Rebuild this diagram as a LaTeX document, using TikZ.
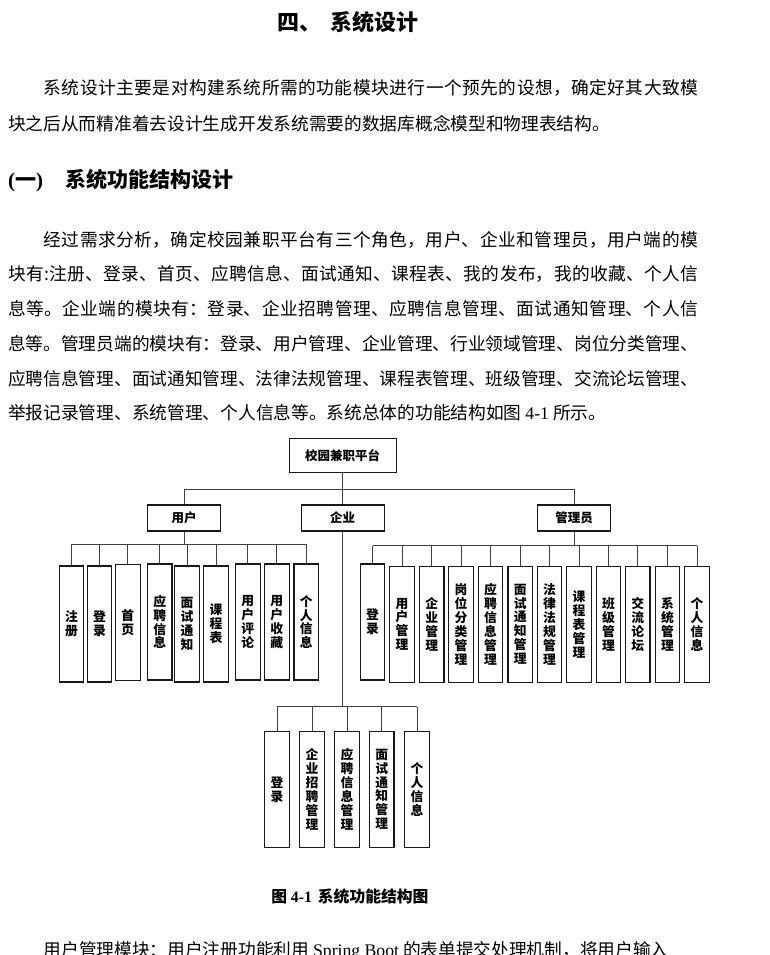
\documentclass[tikz,border=0pt]{standalone}
\usepackage{fontspec}
\setmainfont{Noto Sans CJK SC}
\newfontfamily\lat{Liberation Serif}
\XeTeXlinebreaklocale "zh"
\XeTeXlinebreakskip=0pt plus 2pt minus 0.4pt
\newcommand{\jline}[1]{\parbox{690pt}{\parindent=0pt\parfillskip=0pt\relax #1}}
\newcommand{\ind}{\hspace*{35.4pt}}
\tikzset{
  body/.style={anchor=west, inner sep=0pt, font=\fontsize{17.7}{20}\selectfont},
  topbox/.style={draw=black!90, line width=1.1pt, inner sep=0pt, minimum height=26pt,
     font=\bfseries\fontsize{12.5}{14}\selectfont},
  leaf/.style={draw=black!90, line width=1.1pt, inner sep=0pt, minimum width=24.5pt,
     minimum height=116pt, align=center, font=\bfseries\fontsize{12.8}{13.9}\selectfont},
  conn/.style={draw=black!75, line width=1pt}
}
\begin{document}
\begin{tikzpicture}[x=1pt,y=-1pt]
\useasboundingbox (0,0) rectangle (770,955);
% ---------- text ----------
\node[inner sep=0pt, font=\bfseries\fontsize{22}{26}\selectfont] (title) at (348,22) {四、\hspace{9pt}系统设计};
\node[body] (p1a) at (8,88) {\jline{\ind 系统设计主要是对构建系统所需的功能模块进行一个预先的设想，确定好其大致模}};
\node[body] (p1b) at (8,124) {块之后从而精准着去设计生成开发系统需要的数据库概念模型和物理表结构。};
\node[body, font=\bfseries\fontsize{21}{24}\selectfont] (h1) at (8,181) {{\lat\bfseries (}一{\lat\bfseries )}\hspace{22pt}系统功能结构设计};
\node[body] (p2a) at (8,240) {\jline{\ind 经过需求分析，确定校园兼职平台有三个角色，用户、企业和管理员，用户端的模}};
\node[body] (p2b) at (8,274) {\jline{块有:注册、登录、首页、应聘信息、面试通知、课程表、我的发布，我的收藏、个人信}};
\node[body] (p2c) at (8,309) {\jline{息等。企业端的模块有：登录、企业招聘管理、应聘信息管理、面试通知管理、个人信}};
\node[body] (p2d) at (8,344) {\jline{息等。管理员端的模块有：登录、用户管理、企业管理、行业领域管理、岗位分类管理、}};
\node[body] (p2e) at (8,379) {\jline{应聘信息管理、面试通知管理、法律法规管理、课程表管理、班级管理、交流论坛管理、}};
\node[body] (p2f) at (8,413) {举报记录管理、系统管理、个人信息等。系统总体的功能结构如图 {\lat 4-1} 所示。};
\node[inner sep=0pt, font=\bfseries\fontsize{15.8}{18}\selectfont] (cap) at (350,896) {图 {\lat\bfseries 4-1}\hspace{6pt}系统功能结构图};
\node[body] (p3) at (8,951) {\ind 用户管理模块：用户注册功能利用 {\lat Spring Boot} 的表单提交处理机制，将用户输入};
% ---------- diagram ----------
\node[topbox, minimum width=107pt, minimum height=34.4pt] (root) at (342.6,455.5) {校园兼职平台};
\node[topbox, minimum width=73pt] (user) at (184.2,518) {用户};
\node[topbox, minimum width=83pt] (ent) at (342.6,518) {企业};
\node[topbox, minimum width=72.6pt] (adm) at (574,518) {管理员};
\coordinate (rbus) at (342.6,489.3);
% user leaves
\node[leaf] (u1) at (71.5,624) {注\\册};
\node[leaf] (u2) at (99.5,624) {登\\录};
\node[leaf] (u3) at (127.8,622.5) {首\\页};
\node[leaf] (u4) at (159.7,622) {应\\聘\\信\\息};
\node[leaf] (u5) at (187,624) {面\\试\\通\\知};
\node[leaf] (u6) at (216,624) {课\\程\\表};
\node[leaf] (u7) at (247.8,622) {用\\户\\评\\论};
\node[leaf] (u8) at (276.8,622) {用\\户\\收\\藏};
\node[leaf] (u9) at (306.2,622) {个\\人\\信\\息};
\coordinate (ubus) at (184.2,544.3);
% admin leaves
\node[leaf] (a1) at (372.5,622) {登\\录};
\node[leaf] (a2) at (402,624.2) {用\\户\\管\\理};
\node[leaf] (a3) at (431.7,624.2) {企\\业\\管\\理};
\node[leaf] (a4) at (461,624.2) {岗\\位\\分\\类\\管\\理};
\node[leaf] (a5) at (490.5,624.2) {应\\聘\\信\\息\\管\\理};
\node[leaf] (a6) at (520.2,624.2) {面\\试\\通\\知\\管\\理};
\node[leaf] (a7) at (549.5,624.2) {法\\律\\法\\规\\管\\理};
\node[leaf] (a8) at (579,624.2) {课\\程\\表\\管\\理};
\node[leaf] (a9) at (608.5,624.2) {班\\级\\管\\理};
\node[leaf] (a10) at (637.7,624.2) {交\\流\\论\\坛};
\node[leaf] (a11) at (667.5,624.2) {系\\统\\管\\理};
\node[leaf] (a12) at (697,624.2) {个\\人\\信\\息};
\coordinate (abus) at (574,545.7);
% enterprise leaves
\node[leaf] (e1) at (277,789.3) {登\\录};
\node[leaf] (e2) at (312,789.3) {企\\业\\招\\聘\\管\\理};
\node[leaf] (e3) at (347,789.3) {应\\聘\\信\\息\\管\\理};
\node[leaf] (e4) at (381.7,789.3) {面\\试\\通\\知\\管\\理};
\node[leaf] (e5) at (417,789.3) {个\\人\\信\\息};
\coordinate (ebus) at (342.6,706.7);
% ---------- connectors ----------
\draw[conn] (root.south) -- (rbus);
\draw[conn] (rbus -| user.north) -- (rbus -| adm.north);
\draw[conn] (rbus -| user.north) -- (user.north);
\draw[conn] (rbus) -- (ent.north);
\draw[conn] (rbus -| adm.north) -- (adm.north);
% user
\draw[conn] (user.south) -- (ubus);
\draw[conn] (ubus -| u1.north) -- (ubus -| u9.north);
\foreach \n in {u1,u2,u3,u4,u5,u6,u7,u8,u9}
  \draw[conn] (ubus -| \n.north) -- (\n.north);
% admin
\draw[conn] (adm.south) -- (abus);
\draw[conn] (abus -| a1.north) -- (abus -| a12.north);
\foreach \n in {a1,a2,a3,a4,a5,a6,a7,a8,a9,a10,a11,a12}
  \draw[conn] (abus -| \n.north) -- (\n.north);
% enterprise
\draw[conn] (ent.south) -- (ebus);
\draw[conn] (ebus -| e1.north) -- (ebus -| e5.north);
\foreach \n in {e1,e2,e3,e4,e5}
  \draw[conn] (ebus -| \n.north) -- (\n.north);
\end{tikzpicture}
\end{document}
